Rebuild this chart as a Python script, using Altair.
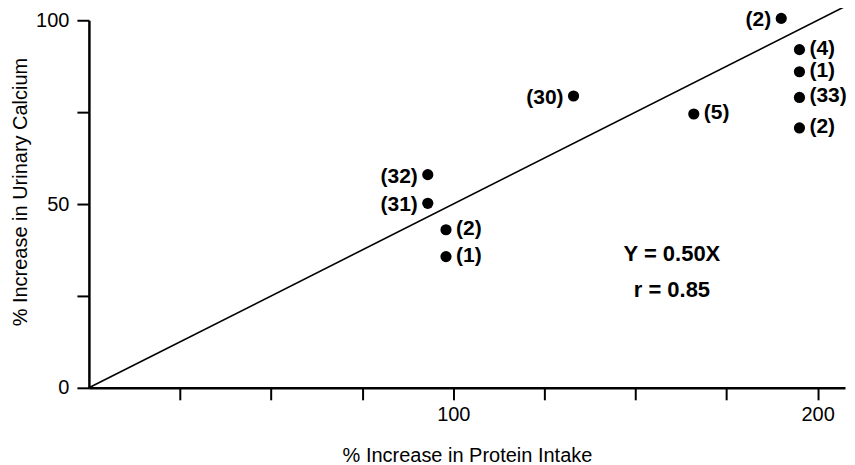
import altair as alt
import pandas as pd

# ---- data ----
protein_increase = [190, 195, 195, 195, 195, 133, 166, 93, 93, 98, 98]
calcium_increase = [100.5, 92, 86, 79, 70.7, 79.4, 74.5, 58, 50.2, 43, 35.7]
study_labels = ["(2)", "(4)", "(1)", "(33)", "(2)", "(30)", "(5)", "(32)", "(31)", "(2)", "(1)"]
label_side = ["left", "right", "right", "right", "right", "left", "right", "left", "left", "right", "right"]

x_ticks = [25, 50, 75, 100, 125, 150, 175, 200]
x_labelled = [100, 200]
y_ticks = [0, 25, 50, 75, 100]
y_labelled = [0, 50, 100]

slope = 0.50
x_max = 207.5
fit_x = [0, x_max]
equation_lines = ["Y = 0.50X", "r = 0.85"]
equation_x = [160, 160]
equation_y = [36.3, 26.6]

FONT = "Liberation Sans, Arial, sans-serif"
BOLD_FONT = "Liberation Sans Narrow, Liberation Sans, Arial, sans-serif"

pts = pd.DataFrame({"x": protein_increase, "y": calcium_increase,
                    "label": study_labels, "side": label_side})
fit = pd.DataFrame({"x": fit_x, "y": [slope * v for v in fit_x]})
eq = pd.DataFrame({"x": equation_x, "y": equation_y, "text": equation_lines})

x_expr = " || ".join(f"datum.value == {v}" for v in x_labelled) + " ? datum.label : ''"
y_expr = " || ".join(f"datum.value == {v}" for v in y_labelled) + " ? datum.label : ''"

xs = alt.Scale(domain=[0, x_max], nice=False, zero=False)
ys = alt.Scale(domain=[0, 100], nice=False, zero=False)

x_axis = alt.Axis(values=x_ticks, labelExpr=x_expr, title="% Increase in Protein Intake",
                  labelPadding=5,
                  titleX=378.5, titleY=73.5, titleBaseline="alphabetic", titleAlign="center")
y_axis = alt.Axis(values=y_ticks, labelExpr=y_expr, title="% Increase in Urinary Calcium",
                  titleX=-62, titleY=171.5, titleBaseline="alphabetic", titleAlign="center")

X = alt.X("x:Q", scale=xs, axis=x_axis)
Y = alt.Y("y:Q", scale=ys, axis=y_axis)

line = alt.Chart(fit).mark_line(color="black", strokeWidth=1.6, clip=False).encode(x=X, y=Y)

points = alt.Chart(pts).mark_circle(size=125, color="black", opacity=1).encode(x=X, y=Y)

left_labels = alt.Chart(pts).transform_filter(alt.datum.side == "left").mark_text(
    align="right", baseline="middle", dx=-10, dy=2, fontSize=21, fontWeight="bold",
    font=FONT, color="black").encode(x=X, y=Y, text="label:N")

right_labels = alt.Chart(pts).transform_filter(alt.datum.side == "right").mark_text(
    align="left", baseline="middle", dx=10, dy=-1, fontSize=21, fontWeight="bold",
    font=FONT, color="black").encode(x=X, y=Y, text="label:N")

equation = alt.Chart(eq).mark_text(
    align="center", baseline="middle", fontSize=22, fontWeight="bold",
    font=BOLD_FONT, color="black").encode(x=X, y=Y, text="text:N")

chart = alt.layer(line, points, left_labels, right_labels, equation).properties(
    width=757, height=368,
    autosize=alt.AutoSizeParams(type="none"),
    padding={"left": 81, "top": 12, "right": 2, "bottom": 77},
    background="white",
).configure_view(stroke=None).configure_axis(
    grid=False, domainColor="black", domainWidth=2.5, tickColor="black", tickWidth=2,
    tickSize=12, labelFont=FONT, labelFontSize=20, labelColor="black", labelPadding=8,
    labelFlush=False, labelOverlap=False, labelBound=False,
    titleFont=FONT, titleFontSize=20, titleFontWeight="normal", titleColor="black",
)

chart.save("out.html", embed_options={"renderer": "svg", "actions": False})
